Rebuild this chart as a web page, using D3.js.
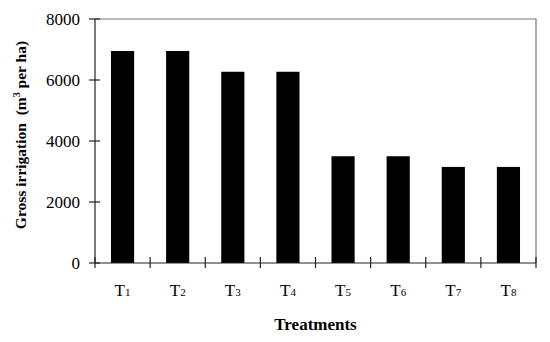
<!DOCTYPE html>
<html><head><meta charset="utf-8">
<script src="https://cdn.jsdelivr.net/npm/d3@7"></script>
<style>body{margin:0;background:#fff}svg{display:block}</style>
</head><body>
<svg id="c" width="550" height="342"></svg>
<script>
const categories = ["1","2","3","4","5","6","7","8"];
const values = [6950, 6950, 6270, 6270, 3500, 3500, 3150, 3150];
const yTicks = [0, 2000, 4000, 6000, 8000];

const svg = d3.select("#c");
const L = 95, R = 536, T = 19, B = 263;
const font = "'Liberation Serif','Times New Roman',serif";

const x = d3.scaleBand().domain(categories).range([L, R]).paddingInner(0.58).paddingOuter(0.29);
const xb = d3.scaleBand().domain(categories).range([L, R]);
const y = d3.scaleLinear().domain([0, 8000]).range([B, T]);

// frame top/right
svg.append("path").attr("d", `M${L},${T}H${R}V${B}`).attr("fill","none").attr("stroke","#777").attr("stroke-width",1.2);

// bars
svg.selectAll("rect.bar").data(values).join("rect")
  .attr("x", (d,i)=>x(categories[i]))
  .attr("width", x.bandwidth())
  .attr("y", d=>y(d))
  .attr("height", d=>B - y(d))
  .attr("fill","#000");

// y axis
const ya = svg.append("g");
ya.append("line").attr("x1",L).attr("x2",L).attr("y1",T).attr("y2",B).attr("stroke","#222").attr("stroke-width",1.2);
ya.selectAll("line.t").data(yTicks).join("line").attr("class","t")
  .attr("x1",L-6).attr("x2",L+5).attr("y1",d=>y(d)).attr("y2",d=>y(d)).attr("stroke","#222").attr("stroke-width",1.2);
ya.selectAll("text").data(yTicks).join("text")
  .attr("x",80).attr("y",d=>y(d)+6).attr("text-anchor","end")
  .attr("font-family",font).attr("font-size",17).text(d=>d);

// x axis
const xa = svg.append("g");
xa.append("line").attr("x1",L).attr("x2",R).attr("y1",B).attr("y2",B).attr("stroke","#222").attr("stroke-width",1.2);
const edges = categories.map(c=>xb(c)).concat([R]);
xa.selectAll("line.t").data(edges).join("line").attr("class","t")
  .attr("x1",d=>d).attr("x2",d=>d).attr("y1",B-6).attr("y2",B+5).attr("stroke","#222").attr("stroke-width",1.2);
const lab = xa.selectAll("text").data(categories).join("text")
  .attr("x",d=>xb(d)+xb.bandwidth()/2).attr("y",296).attr("text-anchor","middle")
  .attr("font-family",font).attr("font-size",17);
lab.append("tspan").text("T");
lab.append("tspan").attr("font-size",11).text(d=>d);

// axis titles
svg.append("text").attr("x",(L+R)/2).attr("y",330).attr("text-anchor","middle")
  .attr("font-family",font).attr("font-weight","bold").attr("font-size",17).text("Treatments");
const yt = svg.append("text").attr("transform","translate(26,135) rotate(-90)").attr("text-anchor","middle")
  .style("white-space","pre")
  .attr("font-family",font).attr("font-weight","bold").attr("font-size",15.5);
yt.append("tspan").text("Gross irrigation  (m");
yt.append("tspan").attr("font-size",10).attr("dy",-6).text("3");
yt.append("tspan").attr("dy",6).text(" per ha)");
</script>
</body></html>
